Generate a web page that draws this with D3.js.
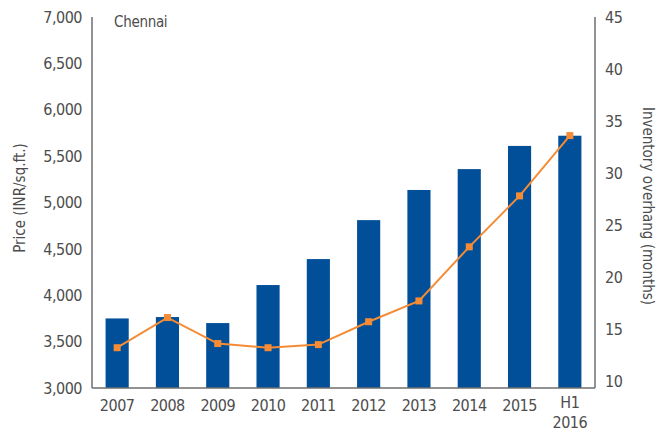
<!DOCTYPE html>
<html>
<head>
<meta charset="utf-8">
<script src="https://cdn.jsdelivr.net/npm/d3@7"></script>
<style>
  body { margin: 0; background: #fff; }
  text { font-family: "Liberation Sans Narrow", "DejaVu Sans Condensed", sans-serif; fill: #4d4d4d; }
</style>
</head>
<body>
<div id="chart"></div>
<script>
const years = ["2007", "2008", "2009", "2010", "2011", "2012", "2013", "2014", "2015", "H1 2016"];
const price = [3750, 3765, 3700, 4110, 4390, 4810, 5135, 5360, 5610, 5720];
const overhang = [13.2, 16.1, 13.6, 13.2, 13.5, 15.7, 17.7, 22.9, 27.8, 33.6];
const priceTicks = [3000, 3500, 4000, 4500, 5000, 5500, 6000, 6500, 7000];
const overhangTicks = [10, 15, 20, 25, 30, 35, 40, 45];

const width = 669, height = 437;
const plotLeft = 92, plotRight = 595, plotTop = 17, plotBottom = 388;

const svg = d3.select("#chart")
  .append("svg")
  .attr("width", width)
  .attr("height", height);

const x = d3.scaleBand().domain(years).range([plotLeft, plotRight]).paddingInner(0.54).paddingOuter(0.27);
const yPrice = d3.scaleLinear().domain([3000, 7000]).range([plotBottom, plotTop]);
// secondary axis sits a little higher at the bottom in the original
const yOver = d3.scaleLinear().domain([10, 45]).range([381, plotTop]);

// bars
svg.selectAll(".bar")
  .data(years)
  .enter()
  .append("rect")
  .attr("x", d => x(d))
  .attr("width", x.bandwidth())
  .attr("y", (d, i) => yPrice(price[i]))
  .attr("height", (d, i) => plotBottom - yPrice(price[i]))
  .attr("fill", "#004f98");

// line
const line = d3.line()
  .x((d, i) => x(years[i]) + x.bandwidth() / 2)
  .y(d => yOver(d));

svg.append("path")
  .datum(overhang)
  .attr("d", line)
  .attr("fill", "none")
  .attr("stroke", "#f58c35")
  .attr("stroke-width", 2);

svg.selectAll(".mark")
  .data(overhang)
  .enter()
  .append("rect")
  .attr("x", (d, i) => x(years[i]) + x.bandwidth() / 2 - 3.5)
  .attr("y", d => yOver(d) - 3.5)
  .attr("width", 7)
  .attr("height", 7)
  .attr("fill", "#f58c35");

// axes
const leftAxis = svg.append("g")
  .attr("transform", `translate(${plotLeft},0)`)
  .call(d3.axisLeft(yPrice).tickValues(priceTicks).tickSize(0).tickPadding(10).tickFormat(d3.format(",")));
const rightAxis = svg.append("g")
  .attr("transform", `translate(${plotRight},0)`)
  .call(d3.axisRight(yOver).tickValues(overhangTicks).tickSize(0).tickPadding(10));

[leftAxis, rightAxis].forEach(g => {
  g.attr("font-family", null).attr("font-size", null);
  g.select(".domain").attr("stroke", "#6e6e6e").attr("stroke-width", 1.5).attr("d", `M0,${plotTop}V${plotBottom}`);
  g.selectAll("text").attr("font-size", 16).attr("letter-spacing", -0.5).attr("fill", "#4d4d4d");
});

svg.append("line")
  .attr("x1", plotLeft).attr("x2", plotRight)
  .attr("y1", plotBottom).attr("y2", plotBottom)
  .attr("stroke", "#6e6e6e")
  .attr("stroke-width", 1.5);

// x labels
svg.selectAll(".xlab")
  .data(years)
  .enter()
  .append("text")
  .attr("text-anchor", "middle")
  .attr("font-size", 16)
  .attr("letter-spacing", -0.5)
  .attr("y", 411)
  .each(function(d) {
    const parts = d.split(" ");
    const cx = x(d) + x.bandwidth() / 2;
    d3.select(this).selectAll("tspan")
      .data(parts)
      .enter()
      .append("tspan")
      .attr("x", cx)
      .attr("dy", (p, j) => j === 0 ? (parts.length > 1 ? -3 : 0) : 20)
      .text(p => p);
  });

// titles
svg.append("text")
  .attr("transform", "translate(25,198) rotate(-90)")
  .attr("text-anchor", "middle")
  .attr("font-size", 15)
  .attr("fill", "#555")
  .text("Price (INR/sq.ft.)");

svg.append("text")
  .attr("transform", "translate(643,206) rotate(90)")
  .attr("text-anchor", "middle")
  .attr("font-size", 15)
  .attr("fill", "#555")
  .text("Inventory overhang (months)");

svg.append("text")
  .attr("x", 114)
  .attr("y", 27)
  .attr("font-size", 15)
  .attr("letter-spacing", -0.3)
  .text("Chennai");
</script>
</body>
</html>
